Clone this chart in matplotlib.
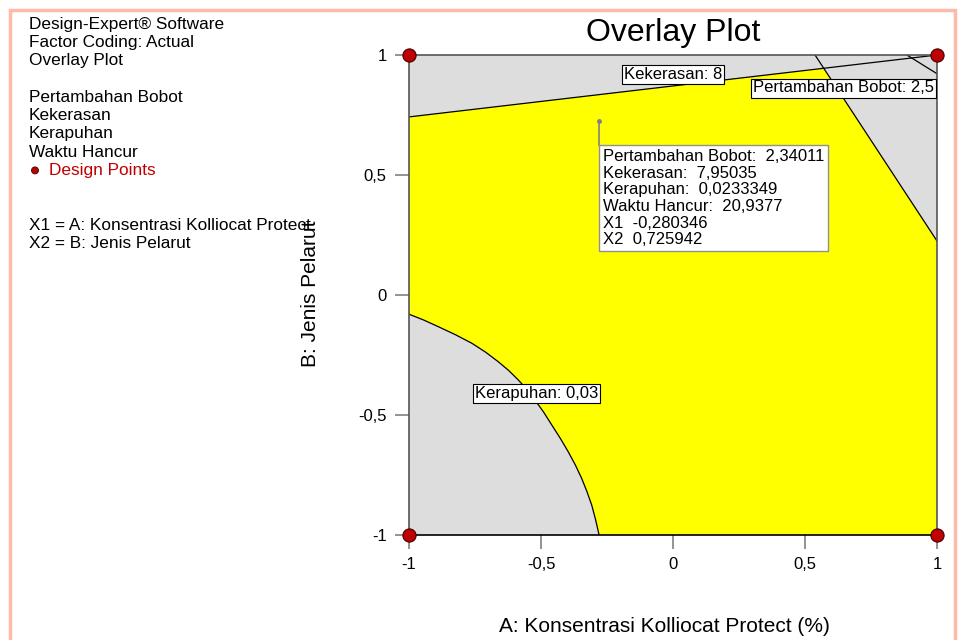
import numpy as np
import matplotlib
matplotlib.use("Agg")
import matplotlib.pyplot as plt
from matplotlib.patches import Rectangle, Polygon, Ellipse
from matplotlib.transforms import offset_copy

plt.rcParams['font.family'] = ['Liberation Sans', 'DejaVu Sans']

# ---------------- data ----------------
title = "Overlay Plot"
x_label = "A: Konsentrasi Kolliocat Protect (%)"
y_label = "B: Jenis Pelarut"
ticks = [-1, -0.5, 0, 0.5, 1]
tick_labels = ["-1", "-0,5", "0", "0,5", "1"]

info_lines = ["Design-Expert® Software", "Factor Coding: Actual", "Overlay Plot", "",
              "Pertambahan Bobot", "Kekerasan", "Kerapuhan", "Waktu Hancur", "Design Points",
              "", "", "X1 = A: Konsentrasi Kolliocat Protect", "X2 = B: Jenis Pelarut"]

# design points
design_x = [-1, 1, -1, 1]
design_y = [-1, -1, 1, 1]

# contour boundaries
keker_x = [-1.0, 1.0]          # Kekerasan: 8
keker_y = [0.742, 1.0]
pb_x = [0.538, 1.0]            # Pertambahan Bobot: 2,5
pb_y = [1.0, 0.225]
extra_x = [0.886, 1.0]         # small contour in top-right corner
extra_y = [1.0, 0.922]
kerap_x = [-1.0, -0.945, -0.889, -0.825, -0.762, -0.710, -0.662, -0.622, -0.586, -0.553,
           -0.523, -0.490, -0.459, -0.427, -0.397, -0.370, -0.346, -0.326, -0.308, -0.293, -0.280]
kerap_y = [-0.080, -0.104, -0.132, -0.165, -0.201, -0.238, -0.278, -0.315, -0.354, -0.394,
           -0.4375, -0.488, -0.542, -0.597, -0.653, -0.708, -0.764, -0.819, -0.875, -0.937, -1.0]

# flag point
flag_x, flag_y = -0.280346, 0.725942
flag_box_top = 0.625
flag_text = ["Pertambahan Bobot:  2,34011",
             "Kekerasan:  7,95035",
             "Kerapuhan:  0,0233349",
             "Waktu Hancur:  20,9377",
             "X1  -0,280346",
             "X2  0,725942"]

# contour labels
contour_labels = ["Kekerasan: 8", "Pertambahan Bobot: 2,5", "Kerapuhan: 0,03"]
contour_label_x = [0.0, 0.644, -0.517]
contour_label_y = [0.917, 0.8625, -0.410]

# ---------------- figure ----------------
W, H = 960, 640
fig = plt.figure(figsize=(9.6, 6.4), dpi=100)
fig.patch.set_facecolor("white")

# salmon border
fig.patches.append(Rectangle((10 / W, -0.05), (955 - 10) / W, 1.05 - 10 / H,
                             transform=fig.transFigure, fill=False,
                             edgecolor="#FBBBA8", linewidth=2.5, zorder=0))

ax = fig.add_axes([409 / W, 1 - 535 / H, (937 - 409) / W, (535 - 55) / H])
ax.set_xlim(-1, 1)
ax.set_ylim(-1, 1)
ax.set_facecolor("#DDDDDD")

# yellow region polygon from the boundaries
k_slope = (keker_y[1] - keker_y[0]) / (keker_x[1] - keker_x[0])
p_slope = (pb_y[1] - pb_y[0]) / (pb_x[1] - pb_x[0])
xi = (pb_y[0] - p_slope * pb_x[0] - keker_y[0] + k_slope * keker_x[0]) / (k_slope - p_slope)
yi = keker_y[0] + k_slope * (xi - keker_x[0])
poly = [(keker_x[0], keker_y[0]), (xi, yi), (pb_x[1], pb_y[1]), (1.0, -1.0)]
poly += list(zip(kerap_x[::-1], kerap_y[::-1]))
ax.add_patch(Polygon(poly, closed=True, facecolor="#FFFF00", edgecolor="none", zorder=1))

lc = dict(color="black", linewidth=0.9, zorder=2)
ax.plot(keker_x, keker_y, **lc)
ax.plot(pb_x, pb_y, **lc)
ax.plot(extra_x, extra_y, **lc)
ax.plot(kerap_x, kerap_y, **lc)

# design points
ax.scatter(design_x, design_y, s=90, facecolor="#C00000", edgecolor="#400000",
           linewidth=0.8, zorder=6, clip_on=False)

# contour labels
for t, lx, ly in zip(contour_labels, contour_label_x, contour_label_y):
    ax.text(lx, ly, t, ha="center", va="center", fontsize=12, zorder=4,
            bbox=dict(boxstyle="square,pad=0.12", facecolor="white",
                      edgecolor="black", linewidth=0.8))

# flag
ax.plot([flag_x, flag_x], [flag_y, flag_box_top], color="#808080", linewidth=1.2, zorder=3)
ax.plot([flag_x], [flag_y], marker="o", markersize=2.5, color="#808080", zorder=3)
tr = offset_copy(ax.transData, fig=fig, x=4, y=-4, units="dots")
ax.text(flag_x, flag_box_top, "\n".join(flag_text), transform=tr, ha="left", va="top",
        fontsize=12, linespacing=1.14, zorder=5,
        bbox=dict(boxstyle="square,pad=0.22", facecolor="white",
                  edgecolor="#909090", linewidth=1.0))

# axes styling
for side in ["left", "right", "top"]:
    ax.spines[side].set_color("#555555")
    ax.spines[side].set_linewidth(1.2)
ax.spines["bottom"].set_color("black")
ax.spines["bottom"].set_linewidth(1.2)
ax.set_xticks(ticks)
ax.set_xticklabels(tick_labels)
ax.set_yticks(ticks)
ax.set_yticklabels(tick_labels)
ax.tick_params(direction="out", length=10, width=1.2, color="#808080",
               labelsize=12, pad=6, labelcolor="black")

# title & axis labels
fig.text(673 / W, 1 - 33 / H, title, ha="center", va="center", fontsize=23)
fig.text(664 / W, 1 - 627 / H, x_label, ha="center", va="center", fontsize=15)
fig.text(310 / W, 1 - 294 / H, y_label, ha="center", va="center", fontsize=15, rotation=90)

# left info text
for i, line in enumerate(info_lines):
    if not line:
        continue
    y = 1 - (24 + 18.3 * i) / H
    if line == "Design Points":
        fig.text(49 / W, y, line, ha="left", va="center", fontsize=12.4, color="#C00000")
        fig.patches.append(Ellipse((35 / W, y), 7 / W, 7 / H, transform=fig.transFigure,
                                   facecolor="#C00000", edgecolor="#400000", linewidth=0.6))
    else:
        fig.text(29 / W, y, line, ha="left", va="center", fontsize=12.4, color="black")

fig.savefig("out.png", dpi=100)
